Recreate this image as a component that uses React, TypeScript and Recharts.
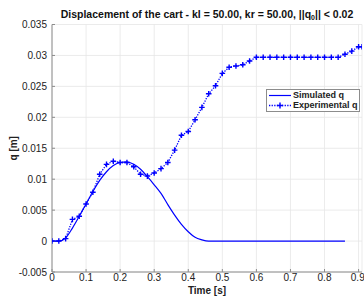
import React from 'react';
import {
  LineChart, Line, XAxis, YAxis, CartesianGrid, Legend, Label,
} from 'recharts';

// simulated response (solid line)
const simTime = [
  0, 0.02, 0.04, 0.06, 0.08, 0.1, 0.12, 0.14, 0.16, 0.18, 0.2, 0.22, 0.24,
  0.26, 0.28, 0.3, 0.32, 0.34, 0.36, 0.38, 0.4, 0.42, 0.44, 0.46, 0.5, 0.6,
  0.7, 0.8, 0.86,
];
const simQ = [
  0, 0, 0.0005, 0.0021, 0.004, 0.006, 0.008, 0.0098, 0.0112, 0.0122, 0.0127,
  0.0128, 0.0124, 0.0116, 0.0104, 0.0091, 0.0077, 0.0059, 0.0042, 0.0027,
  0.0015, 0.0006, 0.0002, 0, 0, 0, 0, 0, 0,
];

// measured response (dotted line with + markers)
const expTime = [
  0, 0.02, 0.04, 0.06, 0.08, 0.1, 0.12, 0.14, 0.16, 0.18, 0.2, 0.22, 0.24,
  0.26, 0.28, 0.3, 0.32, 0.34, 0.36, 0.38, 0.4, 0.42, 0.44, 0.46, 0.48, 0.5,
  0.52, 0.54, 0.56, 0.58, 0.6, 0.62, 0.64, 0.66, 0.68, 0.7, 0.72, 0.74, 0.76,
  0.78, 0.8, 0.82, 0.84, 0.86, 0.88, 0.9, 0.91,
];
const expQ = [
  0, 0, 0.0004, 0.0035, 0.004, 0.006, 0.0079, 0.0108, 0.0124, 0.0129, 0.0127,
  0.0127, 0.012, 0.0108, 0.0105, 0.011, 0.0117, 0.0127, 0.0147, 0.0171,
  0.0177, 0.0196, 0.0216, 0.0238, 0.0251, 0.0271, 0.0281, 0.0283, 0.0285,
  0.0291, 0.0297, 0.0297, 0.0297, 0.0297, 0.0297, 0.0297, 0.0297, 0.0297,
  0.0297, 0.0297, 0.0297, 0.0297, 0.0297, 0.0302, 0.0307, 0.0314, 0.0314,
];

const seriesNames = ['Simulated q', 'Experimental q'];
const xTicks = [0, 0.1, 0.2, 0.3, 0.4, 0.5, 0.6, 0.7, 0.8, 0.9];
const xTickLabels = ['0', '0.1', '0.2', '0.3', '0.4', '0.5', '0.6', '0.7', '0.8', '0.9'];
const yTicks = [-0.005, 0, 0.005, 0.01, 0.015, 0.02, 0.025, 0.03, 0.035];
const yTickLabels = ['-0.005', '0', '0.005', '0.01', '0.015', '0.02', '0.025', '0.03', '0.035'];

const simData = simTime.map((t, i) => ({ t, q: simQ[i] }));
const expData = expTime.map((t, i) => ({ t, q: expQ[i] }));

const BLUE = '#0000ff';
const AXIS = '#8c8c8c';
const FONT = '"Liberation Sans", Arial, Helvetica, sans-serif';

const PlusMark = (props: any) => {
  const { cx, cy, index } = props;
  if (cx == null || cy == null) return <g key={index} />;
  return (
    <path
      key={index}
      d={`M${cx - 2.8},${cy}H${cx + 2.8}M${cx},${cy - 2.8}V${cy + 2.8}`}
      stroke={BLUE}
      strokeWidth={1.4}
      fill="none"
    />
  );
};

// legend drawn in series order (payload order isn't reliable)
function LegendBox() {
  return (
    <div
      style={{
        boxSizing: 'border-box',
        width: 94,
        border: `1px solid ${AXIS}`,
        background: '#fff',
        padding: '1px 0 1px 1px',
        fontFamily: FONT,
        fontSize: 9,
        fontWeight: 'bold',
        color: '#222',
        lineHeight: '9.5px',
        whiteSpace: 'nowrap',
      }}
    >
      {seriesNames.map((name, i) => (
        <div key={name} style={{ display: 'flex', alignItems: 'center', height: 9.5 }}>
          <svg width={24} height={9} style={{ marginRight: 1, flex: 'none' }}>
            <line
              x1={1} x2={23} y1={4.5} y2={4.5}
              stroke={BLUE}
              strokeWidth={i === 0 ? 1.2 : 1.3}
              strokeDasharray={i === 0 ? undefined : '1.3 1.3'}
            />
            {i === 1 && (
              <path d="M9,4.5H15M12,1.5V7.5" stroke={BLUE} strokeWidth={1.4} />
            )}
          </svg>
          <span>{name}</span>
        </div>
      ))}
    </div>
  );
}

const YLabel = (props: any) => {
  const { viewBox } = props;
  const x = viewBox.x + 13;
  const y = viewBox.y + viewBox.height / 2;
  return (
    <text
      x={x} y={y}
      transform={`rotate(-90 ${x} ${y})`}
      textAnchor="middle"
      dominantBaseline="central"
      fontFamily={FONT}
      fontSize={10}
      fontWeight="bold"
      fill="#222"
    >
      q [m]
    </text>
  );
};

export default function App() {
  const tickStyle = { fontFamily: FONT, fontSize: 10, fill: '#222' };
  return (
    <div
      style={{
        position: 'absolute', left: 0, top: 0, width: 364, height: 299,
        overflow: 'hidden', background: '#fff',
      }}
    >
      <div
        style={{
          position: 'absolute', left: 52, width: 310, top: 8,
          textAlign: 'center', fontFamily: FONT, fontSize: 10.5,
          fontWeight: 'bold', color: '#111', lineHeight: '12px', whiteSpace: 'nowrap',
        }}
      >
        Displacement of the cart - kl = 50.00, kr = 50.00, ||q<sub style={{ fontSize: 7, verticalAlign: -2, lineHeight: 0 }}>0</sub>|| &lt; 0.02
      </div>
      <LineChart
        width={364}
        height={299}
        margin={{ top: 24.5, right: 2, bottom: 0, left: 0 }}
        style={{ position: 'absolute', left: 0, top: 0 }}
      >
        <CartesianGrid stroke="#e6e6e6" strokeWidth={0.8} />
        <XAxis
          dataKey="t"
          type="number"
          domain={[0, 0.91]}
          ticks={xTicks}
          tickFormatter={(v: number, i: number) => xTickLabels[i]}
          allowDataOverflow
          height={27}
          stroke={AXIS}
          tickSize={-3}
          tickMargin={5}
          tick={tickStyle}
        >
          <Label
            value="Time [s]"
            position="insideBottom"
            offset={5}
            style={{ fontFamily: FONT, fontSize: 10, fontWeight: 'bold', fill: '#222' }}
          />
        </XAxis>
        <XAxis
          xAxisId="top"
          orientation="top"
          dataKey="t"
          type="number"
          domain={[0, 0.91]}
          ticks={xTicks}
          allowDataOverflow
          height={0}
          stroke={AXIS}
          tickSize={-3}
          tick={false}
        />
        <YAxis
          type="number"
          domain={[-0.005, 0.035]}
          ticks={yTicks}
          tickFormatter={(v: number, i: number) => yTickLabels[i]}
          allowDataOverflow
          width={52}
          stroke={AXIS}
          tickSize={-3}
          tickMargin={8}
          tick={tickStyle}
        >
          <Label content={YLabel} />
        </YAxis>
        <YAxis
          yAxisId="right"
          orientation="right"
          type="number"
          domain={[-0.005, 0.035]}
          ticks={yTicks}
          allowDataOverflow
          width={0}
          stroke={AXIS}
          tickSize={-3}
          tick={false}
        />
        <Legend
          layout="vertical"
          align="center"
          verticalAlign="middle"
          content={<LegendBox />}
          wrapperStyle={{ left: 266, top: 89, width: 94, height: 'auto' }}
        />
        <Line
          data={simData}
          dataKey="q"
          name={seriesNames[0]}
          type="monotone"
          stroke={BLUE}
          strokeWidth={1.2}
          dot={false}
          isAnimationActive={false}
        />
        <Line
          data={expData}
          dataKey="q"
          name={seriesNames[1]}
          type="linear"
          stroke={BLUE}
          strokeWidth={1.3}
          strokeDasharray="1.3 1.3"
          dot={PlusMark}
          isAnimationActive={false}
        />
      </LineChart>
    </div>
  );
}
